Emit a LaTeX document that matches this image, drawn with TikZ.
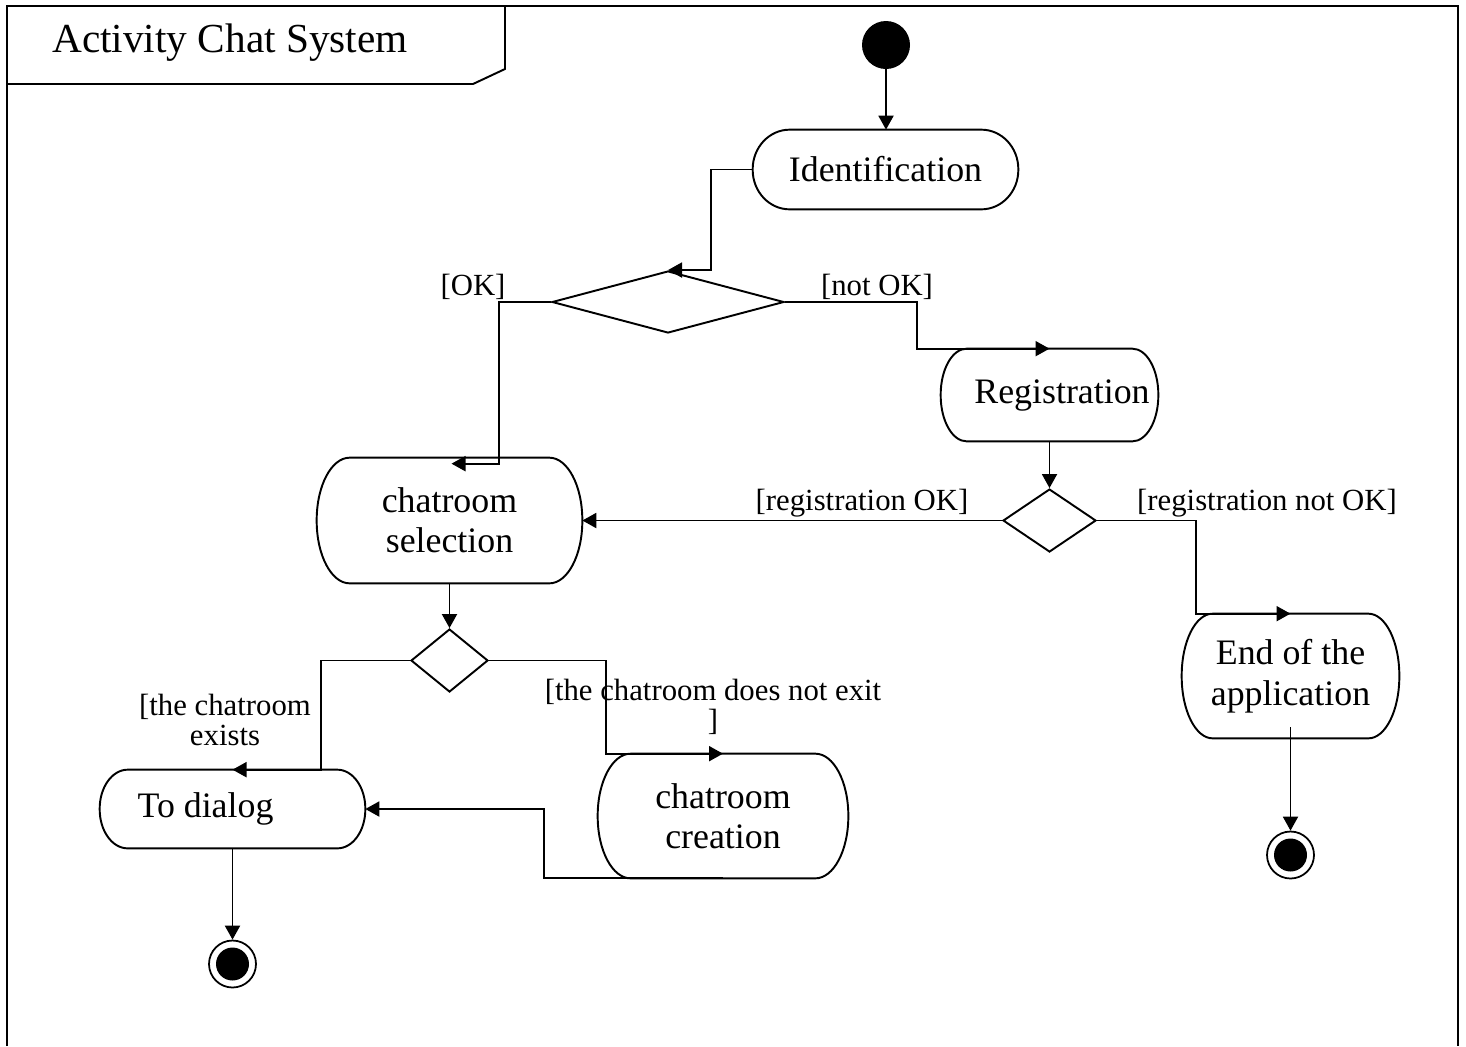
\documentclass[tikz,border=0pt]{standalone}
\usepackage{fontspec}
\setmainfont{Liberation Serif}
\usetikzlibrary{arrows.meta, positioning, shapes.geometric, calc}

\begin{document}
\begin{tikzpicture}[
    x=0.02cm, y=-0.02cm,
    activity/.style={
        rectangle,
        draw=none,
        inner sep=0pt,
        align=center,
        font=\fontsize{20.4}{23}\selectfont
    },
    rim/.style={line width=1.1pt},
    decision/.style={
        diamond,
        draw,
        line width=1.1pt,
        inner sep=0pt
    },
    guard/.style={
        inner sep=0pt,
        align=center,
        font=\fontsize{17.5}{17}\selectfont
    },
    flowline/.style={-{Triangle[length=0.28cm, width=0.3cm]}, line width=1.1pt},
    startdot/.style={circle, fill=black, minimum size=0.96cm, inner sep=0pt},
    enddot/.style={
        circle, draw, line width=1pt, minimum size=0.94cm, inner sep=0pt,
        path picture={\fill (path picture bounding box.center) circle (0.33cm);}
    }
]
    \useasboundingbox (0,0) rectangle (1466,1046);

    % Frame and title tab
    \draw[line width=1.6pt] (7,1046) -- (7,6) -- (1458,6) -- (1458,1046);
    \draw[line width=1.1pt] (7,84) -- (473,84) -- (505,69) -- (505,6);
    \node[font=\fontsize{23.5}{28}\selectfont] (title) at (230,43) {Activity Chat System};

    % Activities
    \node[startdot] (start_dot) at (886,45) {};
    \node[activity, minimum width=5.3cm, minimum height=1.58cm] (ident_box) at (885.5,169.5) {Identification};
    \node[activity, minimum width=4.34cm, minimum height=1.84cm] (reg_box) at (1049.5,395) {\hspace*{0.5cm}Registration};
    \node[activity, minimum width=5.3cm, minimum height=2.5cm] (sel_box) at (449.5,520.5) {chatroom\\selection};
    \node[activity, minimum width=5.3cm, minimum height=1.56cm] (dialog_box) at (232.5,809) {To dialog\hspace*{1.08cm}};
    \node[activity, minimum width=5cm, minimum height=2.48cm] (create_box) at (723,816) {chatroom\\creation};
    \node[activity, minimum width=4.34cm, minimum height=2.48cm] (end_box) at (1290.5,676) {End of the\\application};

    % Outlines with elliptic ends
    \foreach \n/\rx/\ry in {ident_box/0.74/0.79, reg_box/0.52/0.92, sel_box/0.66/1.25,
                            dialog_box/0.56/0.78, create_box/0.66/1.24, end_box/0.62/1.24} {
        \draw[rim] ([xshift=\rx cm]\n.north west) -- ([xshift=-\rx cm]\n.north east)
            arc[start angle=90, end angle=0, x radius=\rx cm, y radius=\ry cm]
            -- ([yshift=\ry cm]\n.south east)
            arc[start angle=0, end angle=-90, x radius=\rx cm, y radius=\ry cm]
            -- ([xshift=\rx cm]\n.south west)
            arc[start angle=-90, end angle=-180, x radius=\rx cm, y radius=\ry cm]
            -- ([yshift=-\ry cm]\n.north west)
            arc[start angle=180, end angle=90, x radius=\rx cm, y radius=\ry cm] -- cycle;
    }

    % Decisions
    \node[decision, minimum width=4.64cm, minimum height=1.24cm] (id_dec) at (668,302) {};
    \node[decision, minimum width=1.86cm, minimum height=1.26cm] (reg_dec) at (1049.5,520.5) {};
    \node[decision, minimum width=1.54cm, minimum height=1.26cm] (room_dec) at (449.5,660.5) {};

    % Final states
    \node[enddot] (dialog_end) at (232.5,964) {};
    \node[enddot] (app_end) at (1290.5,855) {};

    % Guards
    \node[guard] (ok_lbl) at (473,287) {[OK]};
    \node[guard] (notok_lbl) at (877,287) {[not OK]};
    \node[guard] (regok_lbl) at (862,503) {[registration OK]};
    \node[guard] (regnotok_lbl) at (1267,503) {[registration not OK]};
    \node[guard] (exists_lbl) at (225,720) {[the chatroom\\exists};
    \node[guard] (noroom_lbl) at (713,707) {[the chatroom does not exit\\]};

    % Transitions
    \draw[flowline] (start_dot) -- (start_dot |- ident_box.north);
    \draw[flowline] (ident_box.west) -- ++(-42,0) |- (id_dec.north);
    \draw[flowline] (id_dec.west) -- ++(-52,0) |- ($(sel_box.north)+(2,6)$);
    \draw[flowline] (id_dec.east) -- ++(132,0) |- (reg_box.north);
    \draw[flowline] (reg_box.south) -- (reg_dec.north);
    \draw[flowline] (reg_dec.west) -- (sel_box.east);
    \draw[flowline] (reg_dec.east) -- ++(99,0) |- (end_box.north);
    \draw[flowline] (sel_box.south) -- (room_dec.north);
    \draw[flowline] (room_dec.west) -- ++(-89,0) |- (dialog_box.north);
    \draw[flowline] (room_dec.east) -- ++(117,0) |- (create_box.north);
    \draw[flowline] (create_box.south) -- ++(-179,0) |- (dialog_box.east);
    \draw[flowline] (dialog_box.south) -- (dialog_end);
    \draw[flowline] ($(end_box.south)+(0,-11)$) -- (app_end);
\end{tikzpicture}
\end{document}
